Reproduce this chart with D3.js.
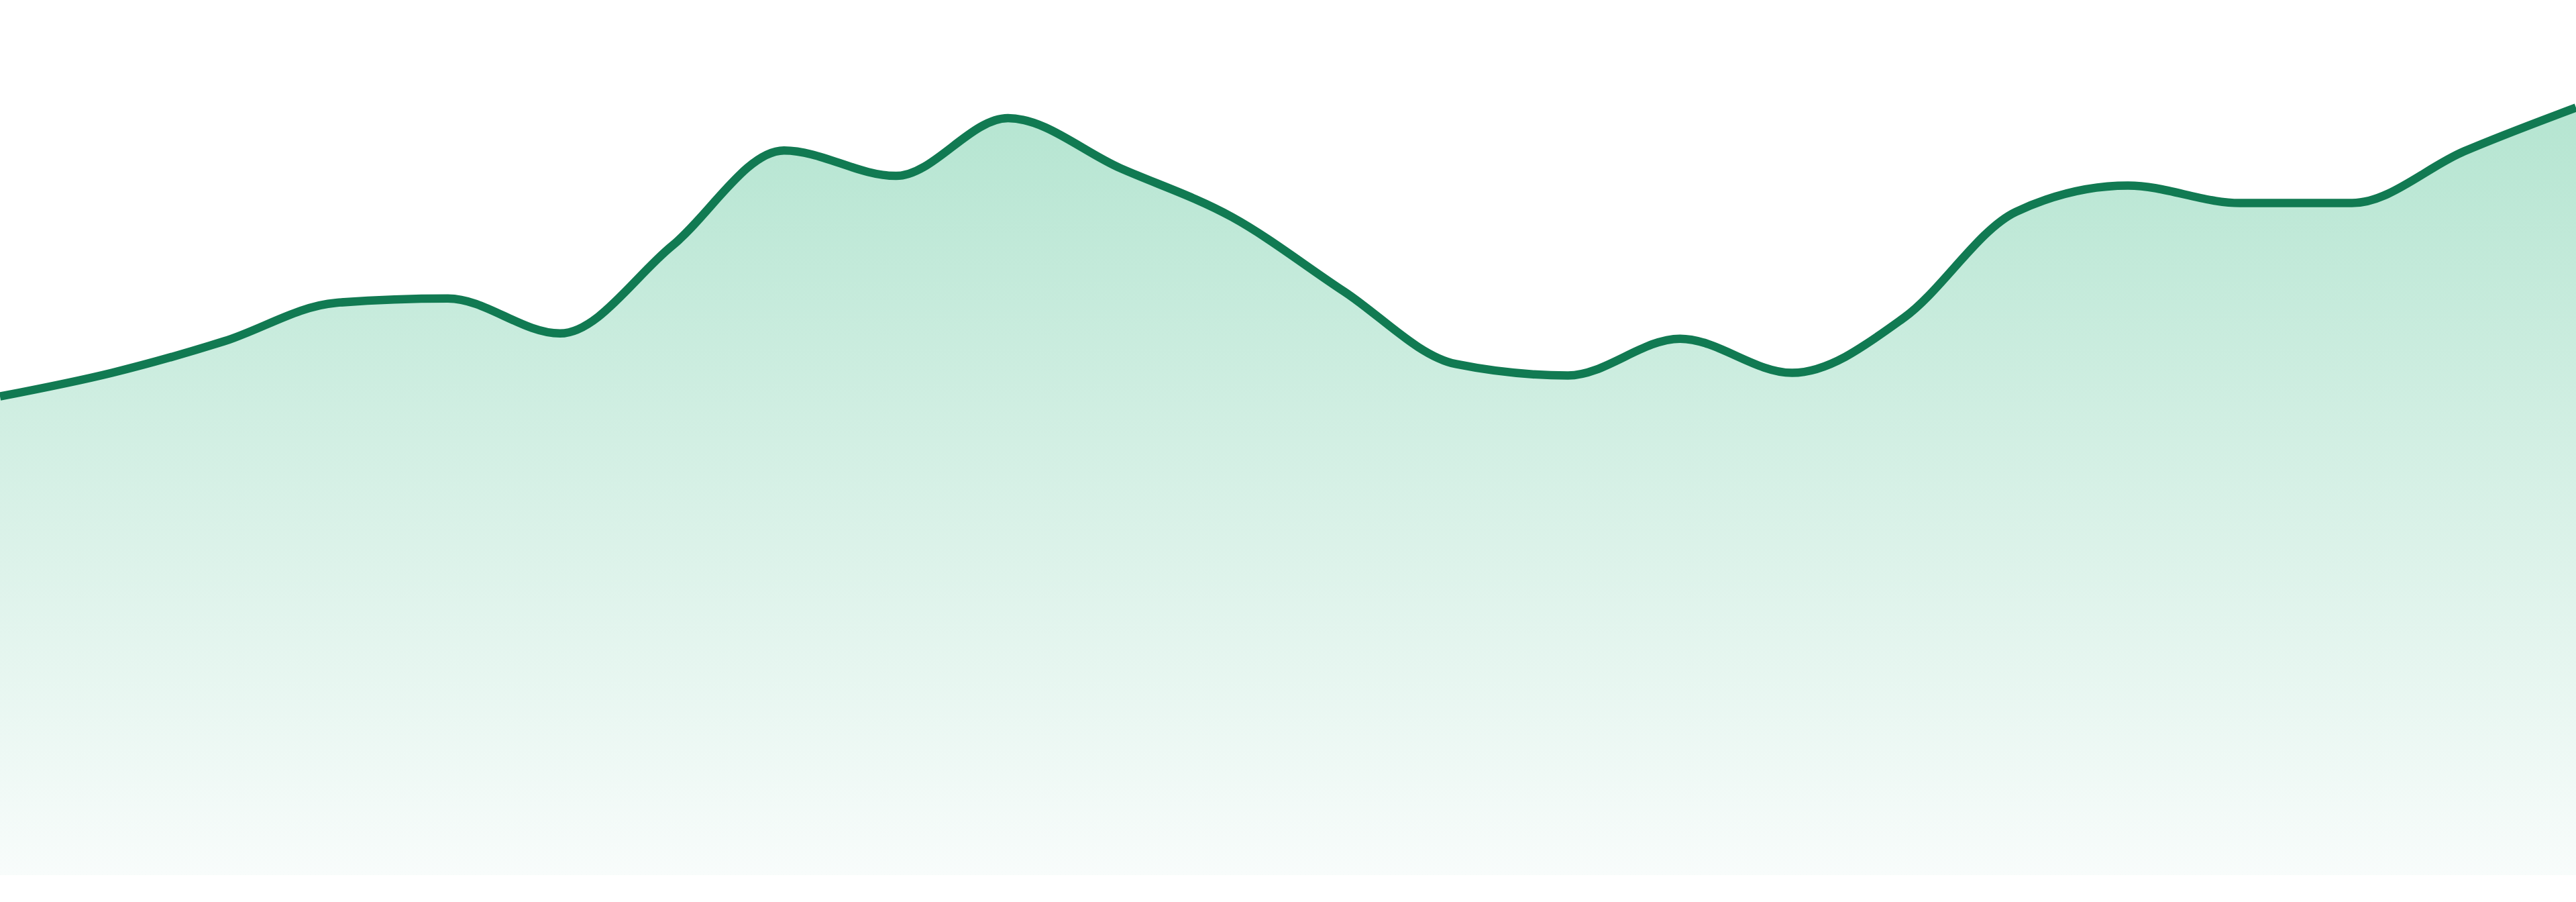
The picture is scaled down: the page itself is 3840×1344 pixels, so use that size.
<!DOCTYPE html>
<html>
<head>
<meta charset="utf-8">
<script src="https://cdn.jsdelivr.net/npm/d3@7"></script>
<style>
  html, body { margin: 0; padding: 0; background: #fff; }
  svg { display: block; }
</style>
</head>
<body>
<svg id="chart"></svg>
<script>
// data points (24 steps, no labels shown on the chart)
const steps = d3.range(1, 25).map(String);
const values = [54.7, 57.4, 61.0, 65.4, 65.9, 61.9, 71.9, 82.8, 79.9, 86.5, 80.8, 75.2,
                66.7, 58.4, 57.1, 61.3, 57.4, 63.7, 75.8, 78.8, 76.8, 76.8, 82.7, 87.7];
const yDomain = [0, 100];

const width = 3840, height = 1344;
const plotBottom = 1304;

const svg = d3.select("#chart")
    .attr("width", width)
    .attr("height", height);

const data = values.map((v, i) => ({ x: steps[i], y: v }));

// scales
const x = d3.scalePoint()
    .domain(steps)
    .range([0, width]);

const y = d3.scaleLinear()
    .domain(yDomain)
    .range([plotBottom, 0]);

// gradient for the fill, from the highest point down to the baseline
const grad = svg.append("defs").append("linearGradient")
    .attr("id", "fillGrad")
    .attr("gradientUnits", "userSpaceOnUse")
    .attr("x1", 0).attr("x2", 0)
    .attr("y1", y(d3.max(values))).attr("y2", y(0));
grad.append("stop").attr("offset", "0%").attr("stop-color", "#b5e5d1");
grad.append("stop").attr("offset", "100%").attr("stop-color", "#f8fcfb");

const area = d3.area()
    .x(d => x(d.x))
    .y0(y(0))
    .y1(d => y(d.y))
    .curve(d3.curveMonotoneX);

const line = d3.line()
    .x(d => x(d.x))
    .y(d => y(d.y))
    .curve(d3.curveMonotoneX);

svg.append("path")
    .datum(data)
    .attr("d", area)
    .attr("fill", "url(#fillGrad)");

svg.append("path")
    .datum(data)
    .attr("d", line)
    .attr("fill", "none")
    .attr("stroke", "#117a52")
    .attr("stroke-width", 12.5)
    .attr("stroke-linejoin", "round");
</script>
</body>
</html>
